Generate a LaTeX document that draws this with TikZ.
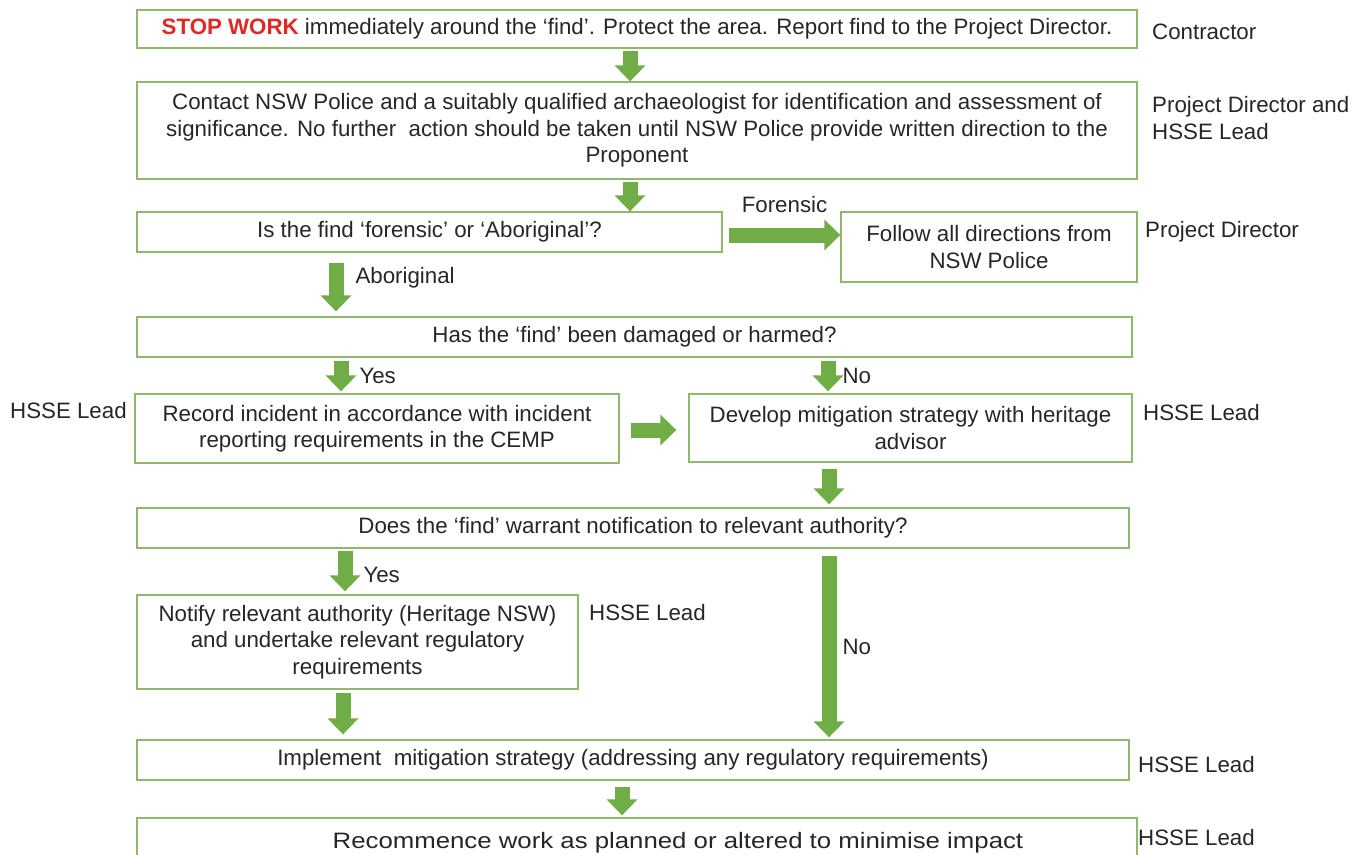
\documentclass[tikz,border=0pt]{standalone}
\usepackage{fontspec}
\setmainfont{Liberation Sans}
\usepackage{tikz}
\usetikzlibrary{arrows.meta}

\definecolor{boxline}{RGB}{146,184,110}
\definecolor{flowgreen}{RGB}{112,173,71}
\definecolor{stopred}{RGB}{226,40,36}
\definecolor{txt}{RGB}{38,38,38}

\newcommand{\flowfont}{\fontsize{22.3bp}{26.5bp}\selectfont}

\tikzset{
  box/.style={draw=boxline,line width=1.3bp,rectangle,align=center,inner sep=0pt,text=txt},
  flow/.style={draw=flowgreen,line width=15bp,-{Triangle[length=16bp,width=30bp]}},
  role/.style={anchor=west,align=left,text=txt,inner sep=0pt},
  lbl/.style={text=txt,inner sep=0pt}
}

\begin{document}
\begin{tikzpicture}[font=\flowfont]
\useasboundingbox (0,0) rectangle (1366bp,-855bp);

% boxes
\node (stop) at (637bp,-29bp)[box,minimum width=1000bp,minimum height=38bp] {\textcolor{stopred}{\textbf{STOP WORK}} immediately around the ‘find’. Protect the area. Report find to the Project Director.};
\node (contact) at (637bp,-130.5bp)[box,minimum width=1000bp,minimum height=97bp] {Contact NSW Police and a suitably qualified archaeologist for identification and assessment of\\significance. No further\ \ action should be taken until NSW Police provide written direction to the\\Proponent};
\node (ask) at (429.5bp,-232bp)[box,minimum width=585bp,minimum height=40bp] {Is the find ‘forensic’ or ‘Aboriginal’?};
\node (follow) at (989bp,-247bp)[box,minimum width=296bp,minimum height=70bp] {Follow all directions from\\NSW Police};
\node (harm) at (634.5bp,-337bp)[box,minimum width=995bp,minimum height=40bp] {Has the ‘find’ been damaged or harmed?};
\node (record) at (377bp,-428.5bp)[box,minimum width=484bp,minimum height=69bp] {Record incident in accordance with incident\\reporting requirements in the CEMP};
\node (develop) at (910.5bp,-428bp)[box,minimum width=443bp,minimum height=68bp] {Develop mitigation strategy with heritage\\advisor};
\node (warrant) at (633bp,-528bp)[box,minimum width=992bp,minimum height=40bp] {Does the ‘find’ warrant notification to relevant authority?};
\node (notify) at (357.5bp,-642bp)[box,minimum width=441bp,minimum height=94bp] {Notify relevant authority (Heritage NSW)\\and undertake relevant regulatory\\requirements};
\node (implement) at (633bp,-760bp)[box,minimum width=992bp,minimum height=40bp] {Implement\ \ mitigation strategy (addressing any regulatory requirements)};
\node (resume) at (637bp,-848bp)[box,minimum width=1000bp,minimum height=60bp,text depth=0pt] {\hspace*{82bp}\raisebox{16bp}{\scalebox{1.156}[1]{Recommence work as planned or altered to minimise impact}}};

% roles
\node (r1) at (1152bp,-32bp)[role] {Contractor};
\node (r2) at (1152bp,-118bp)[role] {Project Director and\\HSSE Lead};
\node (r3) at (1145bp,-232bp)[role] {Project Director};
\node (r4) at (10bp,-411bp)[role] {HSSE Lead};
\node (r5) at (1143bp,-413bp)[role] {HSSE Lead};
\node (r6) at (589bp,-613bp)[role] {HSSE Lead};
\node (r7) at (1138bp,-765bp)[role] {HSSE Lead};
\node (r8) at (1138bp,-838bp)[role] {HSSE Lead};

% arrows
\draw [flow] ([xshift=-7bp,yshift=-2bp]stop.south) -- ([xshift=-7bp]stop.south |- contact.north);
\draw [flow] ([xshift=-7bp,yshift=-2bp]contact.south) -- ([xshift=-7bp]contact.south |- ask.north);
\draw [flow] ([xshift=-93.5bp,yshift=-10bp]ask.south) -- ([xshift=-93.5bp,yshift=5bp]ask.south |- harm.north) node[lbl,pos=0.3,right=12bp] {Aboriginal};
\draw [flow] ([xshift=6bp,yshift=-3bp]ask.east) -- ([yshift=-3bp]ask.east -| follow.west) node[lbl,midway,above=15bp] {Forensic};
\draw [flow] ([xshift=-293.5bp,yshift=-3bp]harm.south) -- ([xshift=-293.5bp,yshift=2bp]harm.south |- record.north) node[lbl,midway,right=11bp] {Yes};
\draw [flow] ([xshift=193.5bp,yshift=-3bp]harm.south) -- ([xshift=193.5bp,yshift=2bp]harm.south |- develop.north) node[lbl,midway,right=7bp] {No};
\draw [flow] ([xshift=11bp,yshift=-1.5bp]record.east) -- ([xshift=-12bp,yshift=-1.5bp]record.east -| develop.west);
\draw [flow] ([xshift=-81.5bp,yshift=-6bp]develop.south) -- ([xshift=-81.5bp,yshift=3bp]develop.south |- warrant.north);
\draw [flow] ([xshift=-288bp,yshift=-2bp]warrant.south) -- ([xshift=-288bp,yshift=3bp]warrant.south |- notify.north) node[lbl,pos=0.6,right=11bp] {Yes};
\draw [flow] ([xshift=196bp,yshift=-7bp]warrant.south) -- ([xshift=196bp,yshift=2bp]warrant.south |- implement.north) node[lbl,midway,right=6bp] {No};
\draw [flow] ([xshift=-14.5bp,yshift=-3bp]notify.south) -- ([xshift=-14.5bp,yshift=5bp]notify.south |- implement.north);
\draw [flow] ([xshift=-11bp,yshift=-6bp]implement.south) -- ([xshift=-11bp,yshift=2bp]implement.south |- resume.north);
\end{tikzpicture}
\end{document}
